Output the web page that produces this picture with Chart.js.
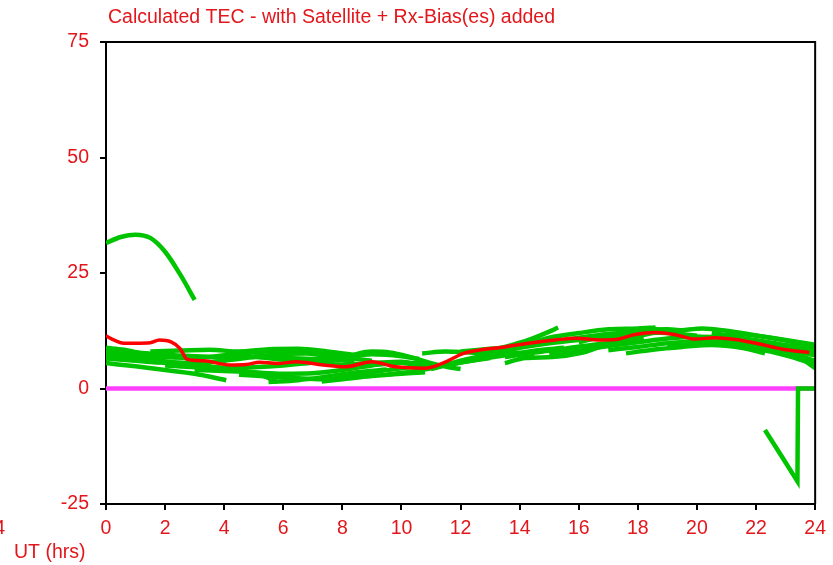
<!DOCTYPE html>
<html>
<head>
<meta charset="utf-8">
<title>Calculated TEC</title>
<script src="https://cdn.jsdelivr.net/npm/chart.js@4.4.1/dist/chart.umd.min.js"></script>
<style>
  html, body { margin: 0; padding: 0; background: #ffffff; }
  #wrap { width: 833px; height: 565px; position: relative; }
</style>
</head>
<body>
<div id="wrap"><canvas id="tec"></canvas></div>
<script>
// Axis ticks
const hourTicks = [0, 2, 4, 6, 8, 10, 12, 14, 16, 18, 20, 22, 24];
const tecTicks = [-25, 0, 25, 50, 75];

// Per-satellite TEC arcs: [UT hours, TEC]
const arc01 = [[0, 31.5], [0.5, 32.8], [1, 33.3], [1.5, 32.6], [2, 29.6], [2.5, 24.8], [3.0, 19.2]];
const arc02 = [[0, 8.0], [1, 7.8], [2, 7.3], [3, 7.0], [4, 6.8], [5, 6.8], [6, 6.6], [7, 6.4], [7.9, 6.2]];
const arc03 = [[0, 5.5], [1, 4.8], [2, 4.0], [3, 3.2], [4.07, 1.8]];
const arc04 = [[0, 7.2], [0.8, 6.8], [1.6, 6.2], [2.5, 5.5], [3.5, 4.8], [4.5, 4.0], [5.2, 3.0], [5.8, 1.4]];
const arc05 = [[0, 6.5], [1, 6.0], [2, 5.6], [3, 5.6], [4, 6.0], [5, 6.8], [6, 7.5], [6.8, 7.6], [7.6, 6.8], [8.4, 5.6]];
const arc06 = [[0, 8.8], [0.6, 8.4], [1.2, 7.6], [1.8, 7.0], [2.4, 6.8]];
const arc07 = [[1.5, 8.0], [2.5, 8.2], [3.5, 8.4], [4.5, 8.0], [5.5, 8.5], [6.5, 8.6], [7.5, 8.0], [8.5, 7.2]];
const arc08 = [[3, 4.0], [4, 3.8], [5, 3.5], [6, 3.2], [7, 3.3], [8, 4.0], [9, 5.0], [10, 5.6], [10.8, 5.5]];
const arc09 = [[4.5, 3.0], [5.5, 2.6], [6.5, 2.2], [7.3, 2.0], [8.2, 2.8], [9.1, 3.6], [10, 4.4], [11, 5.3]];
const arc10 = [[7.3, 1.5], [8, 2.0], [9, 2.7], [10, 3.2], [10.8, 3.5]];
const arc11 = [[5.5, 1.4], [6.5, 1.8], [7.5, 2.6], [8.5, 3.5], [9.5, 4.1]];
const arc12 = [[7.8, 6.0], [8.5, 7.5], [9, 8.0], [9.6, 7.8], [10.3, 6.8], [11, 5.5], [11.6, 4.6], [12, 4.2]];
const arc13 = [[5, 7.0], [6, 6.2], [7, 5.6], [8, 5.2], [9, 5.5], [10, 5.8], [10.7, 5.0], [11.2, 4.8], [12, 5.6], [13, 6.6]];
const arc14 = [[10.7, 7.6], [11.5, 8.0], [12.3, 7.8], [13, 7.6], [13.8, 7.8], [14.5, 7.2]];
const arc15 = [[11, 4.2], [12, 6.0], [13, 7.5], [14, 8.8], [15, 9.8], [16, 10.5], [17, 11.0], [18, 11.2]];
const arc16 = [[12.5, 7.0], [13.5, 9.0], [14.3, 10.5], [15.0, 12.3], [15.3, 13.2]];
const arc17 = [[13.5, 6.8], [14.5, 7.8], [15.5, 8.6], [16.5, 9.5], [17.3, 10.0], [18.2, 10.8]];
const arc18 = [[14.2, 9.5], [15, 11.0], [16, 12.0], [17, 12.8], [18, 13.0], [18.6, 13.2]];
const arc19 = [[13.5, 5.5], [14.2, 6.6], [15.1, 6.8], [16.1, 7.7], [16.7, 9.0]];
const arc20 = [[16.5, 9.0], [17.5, 10.5], [18.5, 12.0], [19.5, 12.6], [20.2, 13.0], [21, 12.5], [22, 11.5], [23, 10.5], [24, 9.5]];
const arc21 = [[17, 8.3], [18, 9.0], [19, 9.8], [20, 10.2], [21, 10.0], [22, 9.5], [23, 8.5], [24, 7.2]];
const arc22 = [[17.6, 7.6], [18.5, 8.4], [19.5, 9.0], [20.5, 9.4], [21.5, 8.8], [22.3, 7.6]];
const arc23 = [[18.5, 13.0], [19.2, 12.0], [20, 11.2], [20.8, 11.0], [21.8, 10.6], [22.8, 9.6], [24, 8.5]];
const arc24 = [[20.5, 12.0], [21.5, 11.0], [22.5, 9.5], [23.3, 7.5], [24, 4.4]];
const arc25 = [[16, 10.0], [17, 11.5], [18, 12.5], [19, 12.8], [19.5, 12.6]];
const arc26 = [[21, 12.2], [22, 11.4], [23, 10.4], [24, 9.0]];
const arc27 = [[22, 9.0], [23, 8.0], [24, 6.0]];
const arc28 = [[22.3, -9.0], [22.85, -14.5], [23.4, -20.1], [23.42, 0], [24, 0]];
const arc29 = [[0, 7.8], [1, 7.2], [2, 6.8], [3, 6.6], [4, 7.2], [5, 7.8], [6, 8.2], [7, 7.6], [8, 6.8], [9, 6.0]];
const arc30 = [[2, 5.0], [3, 4.6], [4, 4.4], [5, 4.6], [6, 5.0], [7, 5.6], [8, 6.6], [9, 7.4], [10, 7.0], [10.6, 6.4]];
const arc31 = [[9.5, 3.0], [10.5, 3.8], [11.5, 5.0], [12.5, 6.2], [13.5, 7.2], [14.5, 8.2], [15.5, 8.8]];
const arc32 = [[12, 8.0], [13, 8.6], [14, 9.2], [15, 10.0], [16, 11.0], [17, 11.8], [18, 12.2], [19, 12.0], [20, 11.4]];
const arc33 = [[15, 7.5], [16, 8.2], [17, 9.2], [18, 10.0], [19, 10.8], [20, 11.2], [21, 11.0], [22, 10.2], [23, 9.2], [24, 8.0]];
const arc34 = [[19, 9.2], [20, 9.8], [21, 9.4], [22, 8.6], [23, 7.2], [24, 5.2]];

const satelliteArcs = [arc01, arc02, arc03, arc04, arc05, arc06, arc07, arc08, arc09, arc10,
  arc11, arc12, arc13, arc14, arc15, arc16, arc17, arc18, arc19, arc20,
  arc21, arc22, arc23, arc24, arc25, arc26, arc27, arc28, arc29, arc30,
  arc31, arc32, arc33, arc34];

// Mean TEC curve
const meanTec = [[0, 11.4], [0.3, 10.4], [0.6, 9.8], [1.0, 9.8], [1.5, 9.9], [1.8, 10.5], [2.2, 10.1],
  [2.5, 8.7], [2.75, 6.3], [3.3, 6.0], [4.2, 5.1], [4.75, 5.2], [5.2, 5.7], [5.8, 5.4], [6.45, 5.8],
  [7.35, 5.1], [8.1, 4.7], [9.0, 5.8], [9.8, 4.7], [10.8, 4.4], [11.4, 5.5], [12.1, 7.6], [12.6, 8.3],
  [13.5, 9.0], [14.3, 9.8], [15.2, 10.5], [15.9, 10.9], [16.7, 10.5], [17.25, 10.6], [17.9, 11.7],
  [18.6, 12.1], [19.3, 11.6], [19.95, 10.7], [20.6, 11.0], [21.3, 10.6], [22.0, 9.8], [22.9, 8.5], [23.8, 7.8]];

// Zero reference line
const zeroLine = [[0, 0], [24, 0]];

const TEXT_RED = '#e3161c';
const FONT = '"Liberation Sans", Arial, sans-serif';
const FONT_SIZE = 19.5;

const toXY = pts => pts.map(p => ({ x: p[0], y: p[1] }));

const datasets = [];
datasets.push({
  label: 'Mean', data: toXY(meanTec), borderColor: '#ff0000', borderWidth: 3.5,
  pointRadius: 0, cubicInterpolationMode: 'monotone', order: 0
});
satelliteArcs.forEach((arc, i) => {
  const step = arc === arc28;
  datasets.push({
    label: 'Arc ' + (i + 1), data: toXY(arc), borderColor: '#00c400', borderWidth: 4.5,
    pointRadius: 0, cubicInterpolationMode: step ? 'default' : 'monotone',
    tension: step ? 0 : 0.4, order: 1
  });
});
datasets.push({
  label: 'Zero', data: toXY(zeroLine), borderColor: '#ff40ff', borderWidth: 4.5,
  pointRadius: 0, tension: 0, order: 2
});

// Frame on the top and right edges plus free-standing labels
const framePlugin = {
  id: 'frame',
  afterDatasetsDraw(chart) {
    const { ctx, chartArea: a } = chart;
    ctx.save();
    ctx.strokeStyle = '#000';
    ctx.lineWidth = 2;
    ctx.beginPath();
    ctx.moveTo(a.left, a.top);
    ctx.lineTo(a.right, a.top);
    ctx.lineTo(a.right, a.bottom);
    ctx.stroke();
    ctx.restore();
  },
  afterDraw(chart) {
    const { ctx } = chart;
    ctx.save();
    ctx.fillStyle = TEXT_RED;
    ctx.font = FONT_SIZE + 'px ' + FONT;
    ctx.textBaseline = 'alphabetic';
    ctx.textAlign = 'left';
    ctx.fillText('Calculated TEC - with Satellite + Rx-Bias(es) added', 108, 23);
    ctx.fillText('UT (hrs)', 14, 558);
    ctx.textAlign = 'right';
    ctx.fillText('24', 5, 534);
    ctx.restore();
  }
};

new Chart(document.getElementById('tec'), {
  type: 'line',
  data: { datasets },
  options: {
    responsive: true,
    maintainAspectRatio: false,
    animation: false,
    layout: { padding: { left: 0, top: 42, right: 16, bottom: 0 } },
    plugins: { legend: { display: false }, tooltip: { enabled: false }, title: { display: false } },
    scales: {
      x: {
        type: 'linear', min: 0, max: 24,
        afterBuildTicks: s => { s.ticks = hourTicks.map(v => ({ value: v })); },
        afterFit: s => { s.height = 61; },
        border: { color: '#000', width: 2 },
        grid: { drawOnChartArea: false, drawTicks: true, tickLength: 6, color: '#000', lineWidth: 2 },
        ticks: { color: TEXT_RED, font: { family: FONT, size: FONT_SIZE }, padding: 7, maxRotation: 0, autoSkip: false }
      },
      y: {
        type: 'linear', min: -25, max: 75,
        afterBuildTicks: s => { s.ticks = tecTicks.map(v => ({ value: v })); },
        afterFit: s => { s.width = 106; },
        border: { color: '#000', width: 2 },
        grid: { drawOnChartArea: false, drawTicks: true, tickLength: 6, color: '#000', lineWidth: 2 },
        ticks: { color: TEXT_RED, font: { family: FONT, size: FONT_SIZE }, padding: 11, autoSkip: false }
      }
    }
  },
  plugins: [framePlugin]
});
</script>
</body>
</html>
